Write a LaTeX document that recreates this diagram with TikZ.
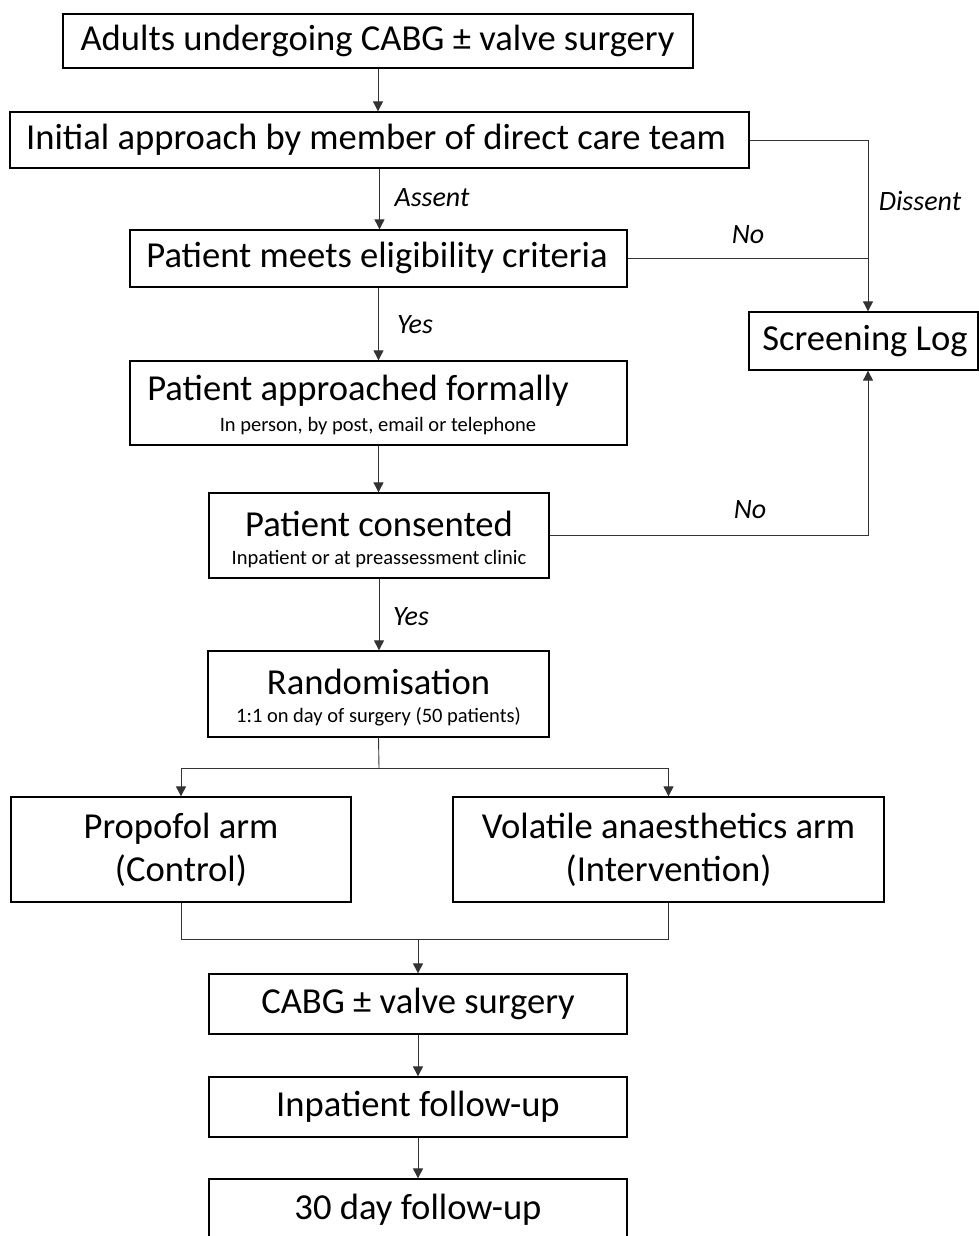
\documentclass[tikz,border=0pt]{standalone}
\usepackage{fontspec}
\setmainfont{Carlito}
\usetikzlibrary{arrows.meta}
\tikzset{
  box/.style={draw=black, line width=1.3pt, rectangle, inner sep=0pt},
  conn/.style={draw=black!80, line width=0.9pt},
  arr/.style={conn, -{Triangle[length=10pt,width=10pt]}},
  big/.style={font=\fontsize{36.6}{43}\selectfont},
  small/.style={font=\fontsize{20.5}{24}\selectfont},
  lab/.style={font=\fontsize{28}{32}\selectfont\itshape},
}
\begin{document}
\begin{tikzpicture}[x=1pt,y=-1pt]
\useasboundingbox (0,0) rectangle (979,1236);
\clip (0,0) rectangle (979,1236);
% boxes
\node[box, minimum width=630, minimum height=54] (b1) at (378,41) {};
\node[box, minimum width=739, minimum height=56] (b2) at (379.5,140) {};
\node[box, minimum width=497, minimum height=57] (b3) at (378.5,258.5) {};
\node[box, minimum width=229, minimum height=58] (sl) at (863.5,341) {};
\node[box, minimum width=497, minimum height=84] (b4) at (378.5,403) {};
\node[box, minimum width=340, minimum height=85] (b5) at (379,535.5) {};
\node[box, minimum width=341, minimum height=86] (b6) at (378.5,694) {};
\node[box, minimum width=340, minimum height=105] (pa) at (181,849.5) {};
\node[box, minimum width=431, minimum height=105] (va) at (668.5,849.5) {};
\node[box, minimum width=418, minimum height=60] (cs) at (418,1004) {};
\node[box, minimum width=418, minimum height=60] (ip) at (418,1107) {};
\node[box, minimum width=418, minimum height=70] (td) at (418,1214) {};
% texts
\node[big] (t1) at (377.5,41) {Adults undergoing CABG ± valve surgery};
\node[big] (t2) at (376,140) {Initial approach by member of direct care team};
\node[big] (t3) at (377,258) {Patient meets eligibility criteria};
\node[big] (tsl) at (865,341) {Screening Log};
\node[big] (t4) at (358,391) {Patient approached formally};
\node[small] (s4) at (378,426) {In person, by post, email or telephone};
\node[big] (t5) at (379,524) {Patient consented};
\node[small] (s5) at (379,559) {Inpatient or at preassessment clinic};
\node[big] (t6) at (378.5,682) {Randomisation};
\node[small] (s6) at (378.5,717) {1:1 on day of surgery (50 patients)};
\node[big, align=center] (tpa) at (181,850) {Propofol arm\\(Control)};
\node[big, align=center] (tva) at (668.5,850) {Volatile anaesthetics arm\\(Intervention)};
\node[big] (tcs) at (418,1004) {CABG ± valve surgery};
\node[big] (tip) at (418,1107) {Inpatient follow-up};
\node[big] (ttd) at (418,1210) {30 day follow-up};
% labels
\node[lab] (lassent) at (432,198) {Assent};
\node[lab] (ldissent) at (920,201) {Dissent};
\node[lab] (lno1) at (748,235) {No};
\node[lab] (lyes1) at (415,325) {Yes};
\node[lab] (lno2) at (750,510) {No};
\node[lab] (lyes2) at (411,617) {Yes};
% coordinates
\coordinate (sd) at (868,140);
\coordinate (split) at (379,768);
\coordinate (merge) at (418,939);
% connectors
\draw[arr] (b1.south) -- (b1.south |- b2.north);
\draw[arr] (b2.south) -- (b2.south |- b3.north);
\draw[arr] (b3.south) -- (b3.south |- b4.north);
\draw[arr] (b4.south) -- (b4.south |- b5.north);
\draw[arr] (b5.south) -- (b5.south |- b6.north);
\draw[arr] (b2.east) -- (sd) -- (sd |- sl.north);
\draw[conn] (b3.east) -- (b3.east -| sd);
\draw[arr] (b5.east) -| (sd |- sl.south);
\draw[conn] (b6.south) -- (split);
\draw[arr] (split) -| (pa.north);
\draw[arr] (split) -| (va.north);
\draw[conn] (pa.south) |- (merge);
\draw[conn] (va.south) |- (merge);
\draw[arr] (merge) -- (cs.north);
\draw[arr] (cs.south) -- (ip.north);
\draw[arr] (ip.south) -- (td.north);
\end{tikzpicture}
\end{document}
